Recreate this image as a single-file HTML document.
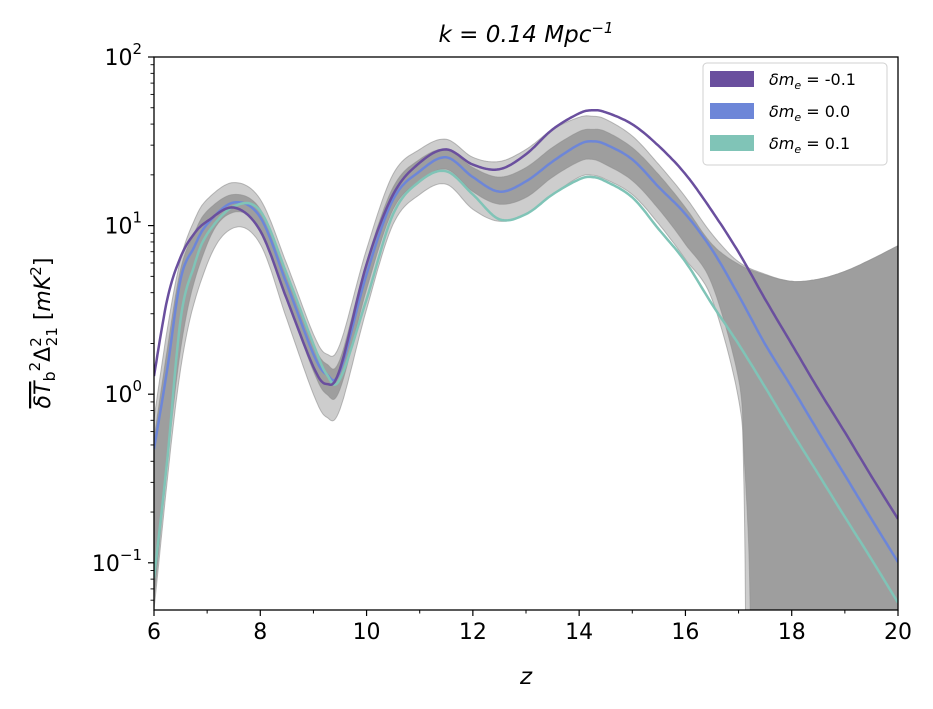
<!DOCTYPE html>
<html><head><meta charset="utf-8"><style>
html,body{margin:0;padding:0;background:#fff;}
svg{display:block;font-family:"DejaVu Sans","Liberation Sans",sans-serif;}
</style></head><body>
<svg id="chart" width="933" height="709" viewBox="0 0 933 709" xmlns="http://www.w3.org/2000/svg">
<defs><clipPath id="clip"><rect x="154" y="57" width="744" height="553"/></clipPath></defs>
<g id="bands" clip-path="url(#clip)"></g>
<g id="lines" clip-path="url(#clip)"></g>
<g id="axes"></g>
<text x="526" y="42" text-anchor="middle" font-size="23" font-style="italic">k = 0.14 Mpc<tspan dy="-9" font-size="15">−1</tspan></text>
<text x="526" y="684" text-anchor="middle" font-size="23" font-style="italic">z</text>
<g transform="translate(50,333) rotate(-90)">
<text text-anchor="middle" font-size="22" font-style="italic"><tspan text-decoration="overline">δT</tspan><tspan font-style="normal" font-size="16" dy="5">b</tspan><tspan font-style="normal" font-size="15" dy="-15">2</tspan><tspan dy="10" font-style="normal">Δ</tspan><tspan font-style="normal" font-size="15" dy="-9">2</tspan><tspan font-style="normal" font-size="15" dx="-9" dy="16">21</tspan><tspan dy="-7" font-style="normal"> [</tspan><tspan>mK</tspan><tspan font-style="normal" font-size="15" dy="-9">2</tspan><tspan font-style="normal" dy="9">]</tspan></text>
</g>
<g>
<rect x="703" y="63" width="184" height="102" rx="4" fill="#fff" stroke="#d0d0d0" stroke-width="1"/>
<rect x="710" y="71" width="44" height="16" fill="#6a4f9e"/>
<text x="769" y="85" font-size="16"><tspan font-style="italic">δm</tspan><tspan font-size="11" dy="4" font-style="italic">e</tspan><tspan dy="-4"> = -0.1</tspan></text>
<rect x="710" y="103" width="44" height="16" fill="#6d86d8"/>
<text x="769" y="117" font-size="16"><tspan font-style="italic">δm</tspan><tspan font-size="11" dy="4" font-style="italic">e</tspan><tspan dy="-4"> = 0.0</tspan></text>
<rect x="710" y="135" width="44" height="16" fill="#80c4b7"/>
<text x="769" y="149" font-size="16"><tspan font-style="italic">δm</tspan><tspan font-size="11" dy="4" font-style="italic">e</tspan><tspan dy="-4"> = 0.1</tspan></text>
</g>
</svg>
<script>
const zGrid=[6,6.25,6.5,6.75,7,7.5,8,8.5,9,9.25,9.5,10,10.5,11,11.5,12,12.5,13,13.5,14,14.25,14.5,15,15.5,16,16.5,17,17.5,18,18.5,19,19.5,20];
const seriesMinus=[1.28,3.66,6.5,8.9,10.6,12.8,9.3,3.66,1.45,1.15,1.41,5.9,15.3,23.6,28.3,23.0,21.6,26.5,37.2,46.3,48.3,47.0,39.9,29.6,20.2,12.2,6.95,3.66,1.98,1.07,0.595,0.326,0.182];
const seriesZero=[0.472,1.41,4.81,7.4,10.2,13.7,11.2,4.49,1.73,1.31,1.37,5.15,14.3,21.0,25.4,19.4,15.9,18.3,24.0,30.3,31.6,30.3,24.7,16.9,11.7,7.2,3.86,1.98,1.10,0.60,0.331,0.182,0.101];
const seriesPlus=[0.081,0.41,2.78,5.7,8.9,13.0,12.2,5.15,1.98,1.31,1.23,3.66,11.7,18.3,21.0,15.3,10.9,11.7,15.3,18.8,19.4,18.3,14.7,9.5,6.1,3.42,1.98,1.10,0.60,0.336,0.187,0.105,0.058];
const outerUpper=[0.711,2.43,6.31,10.6,14.3,18.0,14.3,5.9,2.27,1.73,1.98,7.24,20.2,28.3,32.5,25.4,24.0,28.3,37.2,43.9,44.5,42.7,34.0,23.0,14.8,8.9,6.1,5.15,4.67,4.81,5.35,6.31,7.6];
const innerUpper=[0.541,1.85,5.51,8.9,12.2,15.3,12.5,5.15,1.98,1.51,1.61,6.1,16.9,24.7,28.3,22.1,19.4,22.1,29.1,36.1,37.2,36.1,29.0,20.0,12.8,7.76,5.9,5.1,4.67,4.81,5.35,6.31,7.6];
const zOuterLower=[6,6.5,7,7.5,8,8.5,9,9.25,9.5,10,10.5,11,11.5,12,12.5,13,13.5,14,14.25,14.5,15,15.5,16,16.5,17,17.1,17.15];
const outerLower=[0.053,1.41,5.9,9.7,7.76,2.78,1.0,0.73,0.815,3.19,10.2,15.3,17.6,12.5,10.6,11.7,15.3,19.4,19.9,18.8,15.3,10.2,6.31,3.66,0.934,0.3,0.01];
const zInnerLower=[6,6.5,7,7.5,8,8.5,9,9.25,9.5,10,10.5,11,11.5,12,12.5,13,13.5,14,14.25,14.5,15,15.5,16,16.5,17,17.1,17.2,17.25];
const innerLower=[0.061,1.85,7.76,12.0,9.5,3.66,1.37,1.0,1.07,4.19,12.5,18.3,21.6,15.9,13.4,14.7,19.4,24.0,24.7,23.0,18.5,12.5,7.76,4.49,1.23,0.45,0.1,0.01];
const xTicks=[6,8,10,12,14,16,18,20];
const yTickExps=[-1,0,1,2];

const X0=154,X1=898,Y0=57,Y1=610,ZMIN=6,ZMAX=20,LMIN=-1.28,LMAX=2;
const xs=z=>X0+(z-ZMIN)/(ZMAX-ZMIN)*(X1-X0);
const ys=v=>Y1-(Math.log10(Math.max(v,1e-3))-LMIN)/(LMAX-LMIN)*(Y1-Y0);
const NS="http://www.w3.org/2000/svg";

function samples(zs,vals){
  const pts=[];const n=zs.length;
  const L=vals.map(v=>Math.log10(Math.max(v,1e-3)));
  for(let i=0;i<n-1;i++){
    const p0=i>0?[zs[i-1],L[i-1]]:[zs[i],L[i]],p1=[zs[i],L[i]],p2=[zs[i+1],L[i+1]],p3=i+2<n?[zs[i+2],L[i+2]]:p2;
    const st=12;
    for(let s=0;s<st;s++){
      const t=s/st,t2=t*t,t3=t2*t;
      const f=(a,b,c,d)=>0.5*((2*b)+(-a+c)*t+(2*a-5*b+4*c-d)*t2+(-a+3*b-3*c+d)*t3);
      pts.push([f(p0[0],p1[0],p2[0],p3[0]),f(p0[1],p1[1],p2[1],p3[1])]);
    }
  }
  pts.push([zs[n-1],L[n-1]]);
  return pts.map(p=>[xs(p[0]),ys(Math.pow(10,p[1]))]);
}
const ptsStr=a=>a.map(p=>p[0].toFixed(1)+","+p[1].toFixed(1)).join(" ");

function band(upZ,up,loZ,lo,fill,name){
  const u=samples(upZ,up),l=samples(loZ,lo);
  const tail=[[xs(upZ[upZ.length-1]),Y1+20],[xs(loZ[loZ.length-1]),Y1+20]];
  const all=u.concat(tail).concat(l.reverse());
  const p=document.createElementNS(NS,"polygon");
  p.setAttribute("points",ptsStr(all));
  p.setAttribute("fill",fill);p.setAttribute("stroke","#8f8f8f");p.setAttribute("stroke-width","1");p.setAttribute("stroke-opacity","0.6");
  
  
  document.getElementById("bands").appendChild(p);
}
band(zGrid,outerUpper,zOuterLower,outerLower,"#cdcdcd","band-95");
band(zGrid,innerUpper,zInnerLower,innerLower,"#9e9e9e","band-68");

function line(vals,color,name){
  const p=document.createElementNS(NS,"polyline");
  p.setAttribute("points",ptsStr(samples(zGrid,vals)));
  p.setAttribute("fill","none");p.setAttribute("stroke",color);p.setAttribute("stroke-width","2.5");
  p.setAttribute("stroke-linejoin","round");
  
  
  document.getElementById("lines").appendChild(p);
}
line(seriesZero,"#6d86d8","line-dme-0.0");
line(seriesPlus,"#80c4b7","line-dme-0.1");
line(seriesMinus,"#6a4f9e","line-dme-minus-0.1");

const ax=document.getElementById("axes");
function el(tag,attrs){const e=document.createElementNS(NS,tag);for(const k in attrs)e.setAttribute(k,attrs[k]);ax.appendChild(e);return e;}
const frame=el("rect",{x:X0,y:Y0,width:X1-X0,height:Y1-Y0,fill:"none",stroke:"#000","stroke-width":1.3});


xTicks.forEach(z=>{
  el("line",{x1:xs(z),x2:xs(z),y1:Y1,y2:Y1+6,stroke:"#000","stroke-width":1.2});
  const t=el("text",{x:xs(z),y:Y1+29,"text-anchor":"middle","font-size":22});
  t.textContent=z;
  
  
});
for(let z=7;z<20;z+=2){el("line",{x1:xs(z),x2:xs(z),y1:Y1,y2:Y1+3.5,stroke:"#000","stroke-width":1});}
yTickExps.forEach(e=>{
  const y=ys(Math.pow(10,e));
  el("line",{x1:X0-6,x2:X0,y1:y,y2:y,stroke:"#000","stroke-width":1.2});
  const t=el("text",{x:X0-12,y:y+8,"text-anchor":"end","font-size":22});
  t.innerHTML="10<tspan dy='-11' font-size='15'>"+(e<0?"−"+(-e):e)+"</tspan>";
  
  
});
for(let e=-2;e<2;e++){for(let m=2;m<10;m++){const v=m*Math.pow(10,e);const y=ys(v);if(y<Y0||y>Y1)continue;
  el("line",{x1:X0-3.5,x2:X0,y1:y,y2:y,stroke:"#000","stroke-width":0.9});}}
</script>
</body></html>
